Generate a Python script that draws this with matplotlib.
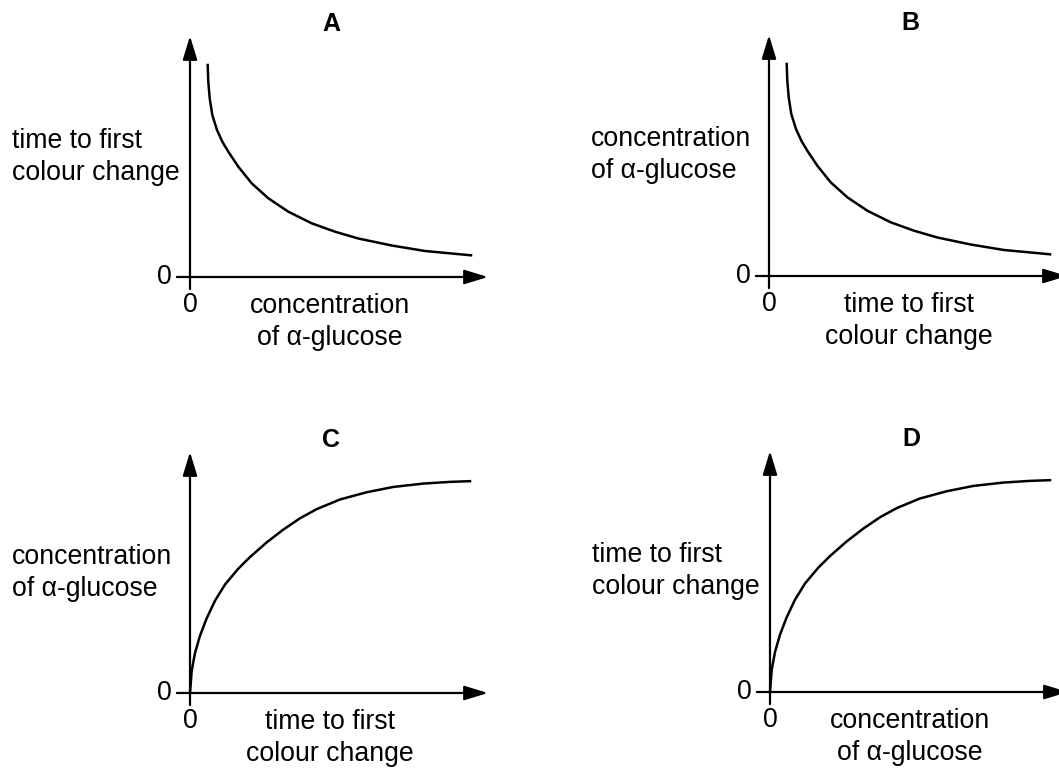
import matplotlib.pyplot as plt

# Four sketch graphs (A-D) of alpha-glucose concentration vs time to first colour change.
# Axes run 0..100 in both directions, 100 being the arrow tip.

FALLING_X = [5.94, 6.14, 6.61, 7.48, 9.06, 10.91, 12.85, 16.21, 20.70, 26.28, 32.99,
             40.84, 48.66, 56.48, 67.68, 78.86, 94.30]
FALLING_Y = [87.97, 81.04, 74.15, 67.22, 61.0, 56.0, 52.0, 45.77, 38.88, 32.66, 27.10,
             22.28, 18.80, 15.98, 13.07, 10.79, 9.00]

RISING_X = [0.0, 0.57, 1.68, 3.36, 5.60, 8.39, 11.74, 16.21, 20.13, 25.74, 31.31,
            36.91, 42.52, 50.34, 59.30, 68.22, 78.29, 87.25, 93.96]
RISING_Y = [0.0, 9.2, 16.6, 23.8, 31.0, 38.3, 45.0, 51.6, 56.4, 62.5, 67.8,
            72.5, 76.3, 80.3, 83.3, 85.5, 86.9, 87.6, 87.9]

PANEL_LETTERS = ["A", "B", "C", "D"]
TIME_LABEL = "time to first\ncolour change"
CONC_LABEL = "concentration\nof \u03b1-glucose"
Y_LABELS = [TIME_LABEL, CONC_LABEL, CONC_LABEL, TIME_LABEL]
X_LABELS = [CONC_LABEL, TIME_LABEL, TIME_LABEL, CONC_LABEL]
CURVES = [(FALLING_X, FALLING_Y), (FALLING_X, FALLING_Y), (RISING_X, RISING_Y), (RISING_X, RISING_Y)]

plt.rcParams["font.family"] = ["Liberation Sans", "DejaVu Sans"]

W, H = 1059, 769
# axis origin (pixels from top-left) for each panel
ORIGINS = [(190, 277), (769, 276), (190, 693), (770, 692)]
AX_W, AX_H = 298, 241

LABEL_SIZE = 19.2


def draw_panel(ax, curve, letter, ylabel, xlabel):
    ax.set_xlim(0, 100)
    ax.set_ylim(0, 100)
    ax.axis("off")

    arrow = dict(arrowstyle="-|>,head_length=0.72,head_width=0.22", color="black",
                 lw=1.6, mutation_scale=20, shrinkA=0, shrinkB=0)
    ax.annotate("", xy=(100, 0), xytext=(-4.4, 0), arrowprops=arrow, annotation_clip=False)
    ax.annotate("", xy=(0, 100), xytext=(0, -5), arrowprops=arrow, annotation_clip=False)

    ax.plot(curve[0], curve[1], color="black", lw=1.8, clip_on=False,
            solid_joinstyle="round")

    ax.text(47.3, 105, letter, fontsize=18, fontweight="bold", ha="center", va="center")
    ax.text(-59.7, 50, ylabel, fontsize=LABEL_SIZE, ha="left", va="center", linespacing=1.3)
    ax.text(47, -18.8, xlabel, fontsize=LABEL_SIZE, ha="center", va="center",
            multialignment="center", linespacing=1.3)
    ax.text(-8.7, 0, "0", fontsize=LABEL_SIZE, ha="center", va="center")
    ax.text(0, -11.6, "0", fontsize=LABEL_SIZE, ha="center", va="center")


def main() -> None:
    fig = plt.figure(figsize=(W / 100, H / 100), dpi=100)
    for i, (ox, oy) in enumerate(ORIGINS):
        ax = fig.add_axes([ox / W, (H - oy) / H, AX_W / W, AX_H / H])
        draw_panel(ax, CURVES[i], PANEL_LETTERS[i], Y_LABELS[i], X_LABELS[i])
    fig.savefig("out.png", dpi=100)


if __name__ == "__main__":
    main()
